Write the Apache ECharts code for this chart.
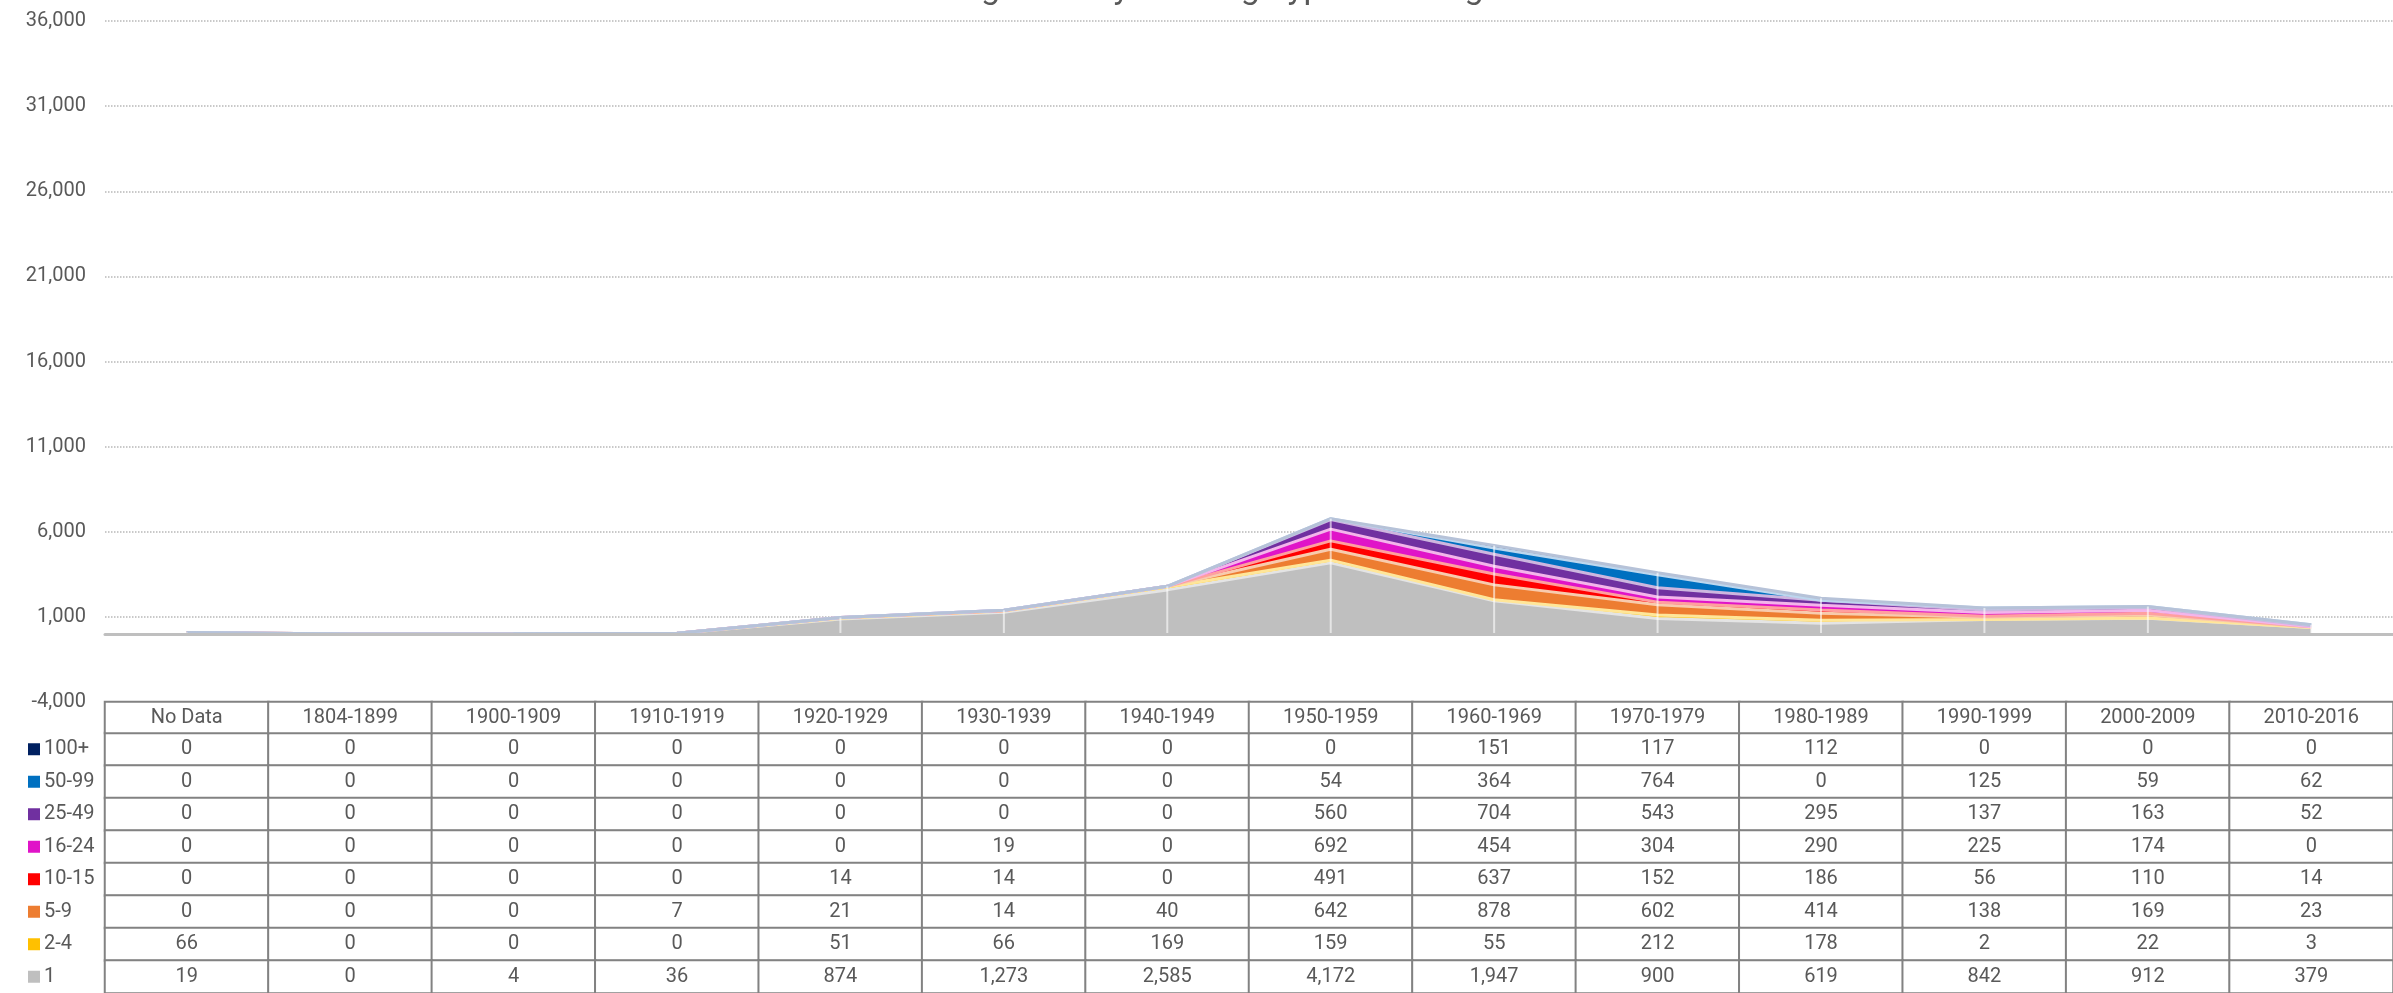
<!DOCTYPE html>
<html lang="en">
<head>
    <meta charset="UTF-8">
    <title>Housing Units</title>
    <script src="https://cdn.jsdelivr.net/npm/echarts/dist/echarts.min.js"></script>
    <style>
        html, body { margin: 0; padding: 0; background: #fff; }
        #chart1 { width: 2393px; height: 993px; }
    </style>
</head>
<body>
<div id="chart1"></div>
</body>
<script type="text/javascript">
    var decades = ['No Data', '1804-1899', '1900-1909', '1910-1919', '1920-1929', '1930-1939', '1940-1949',
        '1950-1959', '1960-1969', '1970-1979', '1980-1989', '1990-1999', '2000-2009', '2010-2016'];

    // bottom of the stack first
    var names = ['1', '2-4', '5-9', '10-15', '16-24', '25-49', '50-99', '100+'];
    var s1 = [19, 0, 4, 36, 874, 1273, 2585, 4172, 1947, 900, 619, 842, 912, 379];
    var s2_4 = [66, 0, 0, 0, 51, 66, 169, 159, 55, 212, 178, 2, 22, 3];
    var s5_9 = [0, 0, 0, 7, 21, 14, 40, 642, 878, 602, 414, 138, 169, 23];
    var s10_15 = [0, 0, 0, 0, 14, 14, 0, 491, 637, 152, 186, 56, 110, 14];
    var s16_24 = [0, 0, 0, 0, 0, 19, 0, 692, 454, 304, 290, 225, 174, 0];
    var s25_49 = [0, 0, 0, 0, 0, 0, 0, 560, 704, 543, 295, 137, 163, 52];
    var s50_99 = [0, 0, 0, 0, 0, 0, 0, 54, 364, 764, 0, 125, 59, 62];
    var s100 = [0, 0, 0, 0, 0, 0, 0, 0, 151, 117, 112, 0, 0, 0];

    var fills = ['#bfbfbf', '#ffc000', '#ed7d31', '#ff0000', '#e014c8', '#7030a0', '#0070c0', '#002060'];
    var edges = ['#e4e4e4', '#ffe699', '#f8cbad', '#ff9f9f', '#f3b5ea', '#cdb6df', '#bdd7ee', '#b6c2d8'];

    var values = [s1, s2_4, s5_9, s10_15, s16_24, s25_49, s50_99, s100];

    var font = 'Roboto';
    var txt = '#595959';
    var border = '#828282';

    var chart1 = echarts.init(document.getElementById('chart1'));

    function fmt(v) {
        return v.toLocaleString('en-US');
    }

    var totals = decades.map(function (d, i) {
        var t = 0;
        values.forEach(function (arr) { t += arr[i]; });
        return t;
    });

    var series = [];
    values.forEach(function (arr, k) {
        series.push({
            name: names[k],
            type: 'line',
            stack: 'all',
            symbol: 'none',
            data: arr,
            lineStyle: {color: edges[k], width: 3},
            areaStyle: {color: fills[k], opacity: 1},
            itemStyle: {color: fills[k]},
            emphasis: {disabled: true},
            silent: true
        });
    });
    // drop lines
    series.push({
        type: 'bar',
        data: totals,
        barWidth: 2,
        itemStyle: {color: 'rgba(255,255,255,0.6)'},
        z: 5,
        silent: true
    });

    // table rows top to bottom
    var rowNames = names.slice().reverse();
    var cells = [];
    rowNames.forEach(function (n, r) {
        var arr = values[names.indexOf(n)];
        arr.forEach(function (v, c) {
            cells.push([c, r, v]);
        });
    });
    series.push({
        type: 'heatmap',
        xAxisIndex: 1,
        yAxisIndex: 1,
        data: cells,
        itemStyle: {color: '#fff', borderColor: border, borderWidth: 2},
        label: {
            show: true, color: txt, fontFamily: font, fontSize: 20,
            formatter: function (p) { return fmt(p.value[2]); }
        },
        emphasis: {disabled: true},
        silent: true
    });
    // header row
    series.push({
        type: 'heatmap',
        xAxisIndex: 2,
        yAxisIndex: 3,
        data: decades.map(function (d, i) { return [i, 0, i]; }),
        itemStyle: {color: '#fff', borderColor: border, borderWidth: 2},
        label: {
            show: true, color: txt, fontFamily: font, fontSize: 20,
            formatter: function (p) { return decades[p.value[0]]; }
        },
        emphasis: {disabled: true},
        silent: true
    });

    var rich = {t: {color: txt, fontFamily: font, fontSize: 20, padding: [0, 0, 0, 4]}};
    rowNames.forEach(function (n, r) {
        var c = fills[names.indexOf(n)];
        rich['s' + r] = {backgroundColor: c, width: 12, height: 12};
    });

    var option = {
        backgroundColor: '#fff',
        animation: false,
        title: {
            text: 'Housing Units by Building Type and Height',
            left: 869,
            top: -33,
            textStyle: {fontFamily: font, fontSize: 34, fontWeight: 'normal', color: txt}
        },
        grid: [
            {left: 105, right: -14, top: 21, bottom: 291},
            {left: 105, right: -14, top: 733, height: 266},
            {left: 105, right: -14, top: 702, height: 31}
        ],
        xAxis: [{
            type: 'category',
            data: decades,
            gridIndex: 0,
            z: 10,
            axisLine: {onZero: true, lineStyle: {color: '#bfbfbf', width: 3}},
            axisTick: {show: false},
            axisLabel: {show: false}
        }, {
            type: 'category',
            data: decades,
            gridIndex: 1,
            show: false
        }, {
            type: 'category',
            data: decades,
            gridIndex: 2,
            show: false
        }],
        yAxis: [{
            type: 'value',
            gridIndex: 0,
            min: -4000,
            max: 36000,
            interval: 5000,
            axisLine: {show: false},
            axisTick: {show: false},
            axisLabel: {color: txt, fontFamily: font, fontSize: 20, margin: 19},
            splitLine: {lineStyle: {color: '#b8b8b8', type: 'dotted', width: 1.5}}
        }, {
            type: 'category',
            gridIndex: 1,
            data: rowNames,
            inverse: true,
            axisLine: {show: true, lineStyle: {color: border, width: 2}},
            axisTick: {length: 84, lineStyle: {color: border, width: 2}},
            axisLabel: {
                align: 'left', margin: 77, rich: rich,
                formatter: function (v, i) { return '{s' + i + '|}{t|' + v + '}'; }
            }
        }, {
            type: 'category',
            gridIndex: 1,
            data: rowNames,
            inverse: true,
            offset: 84,
            axisLine: {show: true, lineStyle: {color: border, width: 2}},
            axisTick: {show: false},
            axisLabel: {show: false}
        }, {
            type: 'category',
            gridIndex: 2,
            data: ['header'],
            show: false
        }],
        series: series
    };
    chart1.setOption(option);
</script>
</html>
